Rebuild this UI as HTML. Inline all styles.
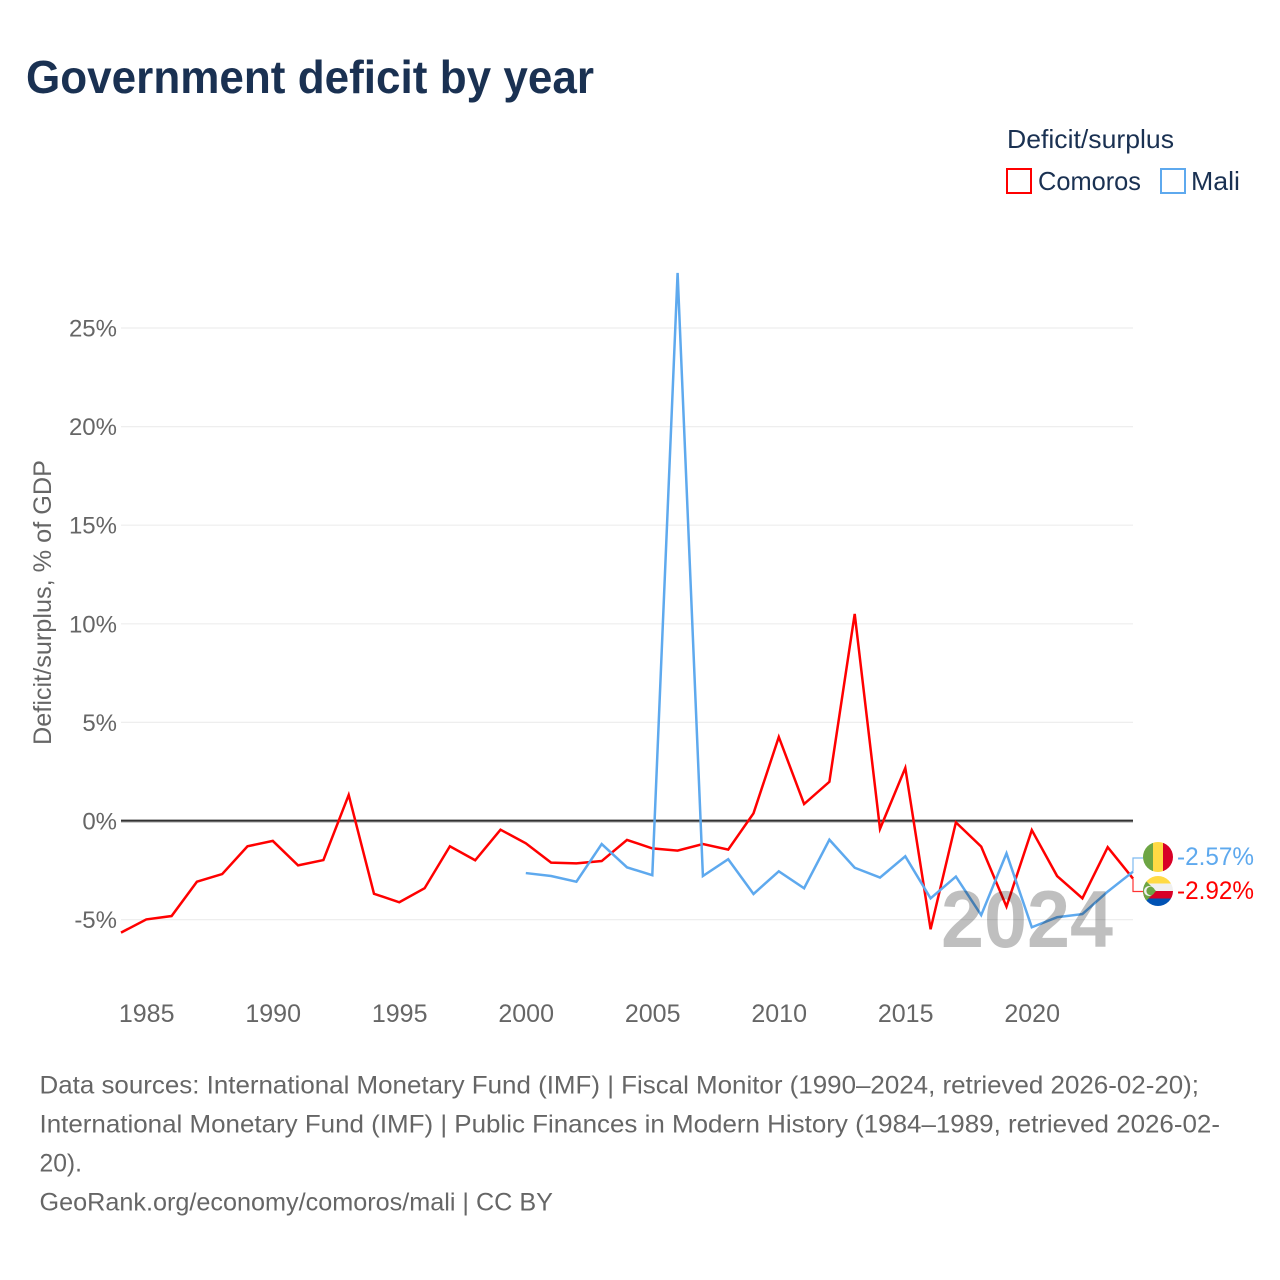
<!DOCTYPE html>
<html lang="en">
<head>
<meta charset="utf-8">
<title>Government deficit by year</title>
<style>
html,body{margin:0;padding:0;background:#fff;}
svg{display:block;font-family:"Liberation Sans",sans-serif;}
</style>
</head>
<body>
<svg id="chart" width="1280" height="1280" viewBox="0 0 1280 1280" xmlns="http://www.w3.org/2000/svg">
  <defs>
    <clipPath id="clip-mali"><circle cx="1158" cy="857" r="15"/></clipPath>
    <clipPath id="clip-comoros"><circle cx="1158" cy="891" r="15"/></clipPath>
  </defs>
  <rect width="1280" height="1280" fill="#fff"/>
  <text x="26" y="93" font-size="46" font-weight="700" fill="#1a3152" textLength="568" lengthAdjust="spacingAndGlyphs">Government deficit by year</text>

  <g>
    <text x="1007" y="148" font-size="26" fill="#1a3152" textLength="167" lengthAdjust="spacingAndGlyphs">Deficit/surplus</text>
    <g>
      <rect x="1007" y="169" width="24" height="24" fill="#fff" stroke="#ff0000" stroke-width="2"/>
      <text x="1038" y="190" font-size="26" fill="#1a3152" textLength="103" lengthAdjust="spacingAndGlyphs">Comoros</text>
    </g>
    <g>
      <rect x="1161" y="169" width="24" height="24" fill="#fff" stroke="#5ea9ee" stroke-width="2"/>
      <text x="1191" y="190" font-size="26" fill="#1a3152" textLength="49" lengthAdjust="spacingAndGlyphs">Mali</text>
    </g>
  </g>

  <text transform="translate(51,745) rotate(-90)" font-size="25" fill="#666" textLength="285" lengthAdjust="spacingAndGlyphs">Deficit/surplus, % of GDP</text>

  <g id="grid"></g>
  <g id="y-ticks"></g>
  <g id="x-ticks"></g>
  <g id="series"></g>

  <text x="1027" y="947" font-size="81" font-weight="700" fill="#000" fill-opacity="0.25" text-anchor="middle" textLength="172" lengthAdjust="spacingAndGlyphs">2024</text>

  <g id="end-labels"></g>

  <g clip-path="url(#clip-mali)">
    <rect x="1143" y="842" width="10" height="30" fill="#6da544"/>
    <rect x="1153" y="842" width="10" height="30" fill="#ffda44"/>
    <rect x="1163" y="842" width="10" height="30" fill="#d80027"/>
  </g>
  <g clip-path="url(#clip-comoros)">
    <rect x="1143" y="876" width="30" height="7.5" fill="#ffda44"/>
    <rect x="1143" y="883.5" width="30" height="7.5" fill="#f0f0f0"/>
    <rect x="1143" y="891" width="30" height="7.5" fill="#d80027"/>
    <rect x="1143" y="898.5" width="30" height="7.5" fill="#0052b4"/>
    <polygon points="1141,876 1156,891 1141,906" fill="#6da544"/>
    <circle cx="1149" cy="891" r="5" fill="#f0f0f0"/>
    <circle cx="1150.6" cy="891" r="4.2" fill="#6da544"/>
  </g>

  <g font-size="25" fill="#666">
    <text x="39.5" y="1093.5" textLength="1159.5" lengthAdjust="spacingAndGlyphs">Data sources: International Monetary Fund (IMF) | Fiscal Monitor (1990–2024, retrieved 2026-02-20);</text>
    <text x="39.5" y="1132.5" textLength="1180.5" lengthAdjust="spacingAndGlyphs">International Monetary Fund (IMF) | Public Finances in Modern History (1984–1989, retrieved 2026-02-</text>
    <text x="39.5" y="1171.5" textLength="42.5" lengthAdjust="spacingAndGlyphs">20).</text>
    <text x="39.5" y="1210.5" textLength="513.5" lengthAdjust="spacingAndGlyphs">GeoRank.org/economy/comoros/mali | CC BY</text>
  </g>
</svg>
<script>
const comorosYears = [1984,1985,1986,1987,1988,1989,1990,1991,1992,1993,1994,1995,1996,1997,1998,1999,2000,2001,2002,2003,2004,2005,2006,2007,2008,2009,2010,2011,2012,2013,2014,2015,2016,2017,2018,2019,2020,2021,2022,2023,2024];
const comorosValues = [-5.66,-4.99,-4.82,-3.08,-2.69,-1.28,-1.01,-2.25,-1.98,1.32,-3.69,-4.12,-3.41,-1.28,-1.99,-0.44,-1.13,-2.11,-2.15,-2.03,-0.96,-1.39,-1.5,-1.17,-1.45,0.39,4.26,0.86,1.99,10.5,-0.4,2.69,-5.49,-0.07,-1.3,-4.34,-0.46,-2.79,-3.92,-1.33,-2.92];
const maliYears = [2000,2001,2002,2003,2004,2005,2006,2007,2008,2009,2010,2011,2012,2013,2014,2015,2016,2017,2018,2019,2020,2021,2022,2023,2024];
const maliValues = [-2.64,-2.79,-3.08,-1.17,-2.35,-2.75,27.79,-2.79,-1.94,-3.7,-2.55,-3.41,-0.95,-2.37,-2.87,-1.79,-3.92,-2.82,-4.77,-1.64,-5.39,-4.88,-4.72,-3.58,-2.57];
const yTicks = [-5,0,5,10,15,20,25];
const xTicks = [1985,1990,1995,2000,2005,2010,2015,2020];

const NS = 'http://www.w3.org/2000/svg';
function xScale(year){ return 121 + (year - 1984) * 25.3; }
function yScale(value){ return 821 - value * 19.72; }
function make(tag, attrs, parent){
  const el = document.createElementNS(NS, tag);
  for (const k in attrs) el.setAttribute(k, attrs[k]);
  parent.appendChild(el);
  return el;
}

const grid = document.getElementById('grid');
const yTickGroup = document.getElementById('y-ticks');
yTicks.forEach(function(v){
  const isZero = v === 0;
  if (isZero) {
    const under = make('line', {x1:121, x2:1133, y1:yScale(v)+0.6, y2:yScale(v)+0.6, stroke:'#bbb', 'stroke-width':2.4}, grid);
    
    
  }
  const line = make('line', {x1:121, x2:1133, y1:yScale(v)-(isZero?0.4:0), y2:yScale(v)-(isZero?0.4:0), stroke:isZero?'#333':'#eeeeee', 'stroke-width':isZero?2:1.2}, grid);
  
  
  const t = make('text', {x:117, y:yScale(v)+8.5, 'font-size':24, fill:'#666', 'text-anchor':'end'}, yTickGroup);
  
  
  t.textContent = v + '%';
});

const xTickGroup = document.getElementById('x-ticks');
xTicks.forEach(function(y){
  const t = make('text', {x:xScale(y)+0.4, y:1022, 'font-size':25, fill:'#666', 'text-anchor':'middle'}, xTickGroup);
  
  
  t.textContent = y;
});

function pathFor(years, values){
  return values.map(function(v, i){
    return (i ? 'L' : 'M') + xScale(years[i]).toFixed(2) + ' ' + yScale(v).toFixed(2);
  }).join(' ');
}
const seriesGroup = document.getElementById('series');
const comorosLine = make('path', {d:pathFor(comorosYears, comorosValues), fill:'none', stroke:'#ff0000', 'stroke-width':2.5, 'stroke-linejoin':'miter'}, seriesGroup);


const maliLine = make('path', {d:pathFor(maliYears, maliValues), fill:'none', stroke:'#5ea9ee', 'stroke-width':2.5, 'stroke-linejoin':'miter'}, seriesGroup);



const endGroup = document.getElementById('end-labels');
const lastMali = maliValues[maliValues.length - 1];
const lastComoros = comorosValues[comorosValues.length - 1];
const endX = xScale(2024);
const maliConnector = make('path', {d:'M' + endX + ' ' + yScale(lastMali) + ' V858 H1143', fill:'none', stroke:'#5ea9ee', 'stroke-width':1.2, 'stroke-opacity':0.8}, endGroup);


const comorosConnector = make('path', {d:'M' + endX + ' ' + yScale(lastComoros) + ' V891.5 H1143', fill:'none', stroke:'#ff0000', 'stroke-width':1.2, 'stroke-opacity':0.8}, endGroup);


const maliLabel = make('text', {x:1177, y:865, 'font-size':25, fill:'#5ea9ee', textLength:77, lengthAdjust:'spacingAndGlyphs'}, endGroup);


maliLabel.textContent = lastMali.toFixed(2) + '%';
const comorosLabel = make('text', {x:1177, y:899, 'font-size':25, fill:'#ff0000', textLength:77, lengthAdjust:'spacingAndGlyphs'}, endGroup);


comorosLabel.textContent = lastComoros.toFixed(2) + '%';
</script>
</body>
</html>
